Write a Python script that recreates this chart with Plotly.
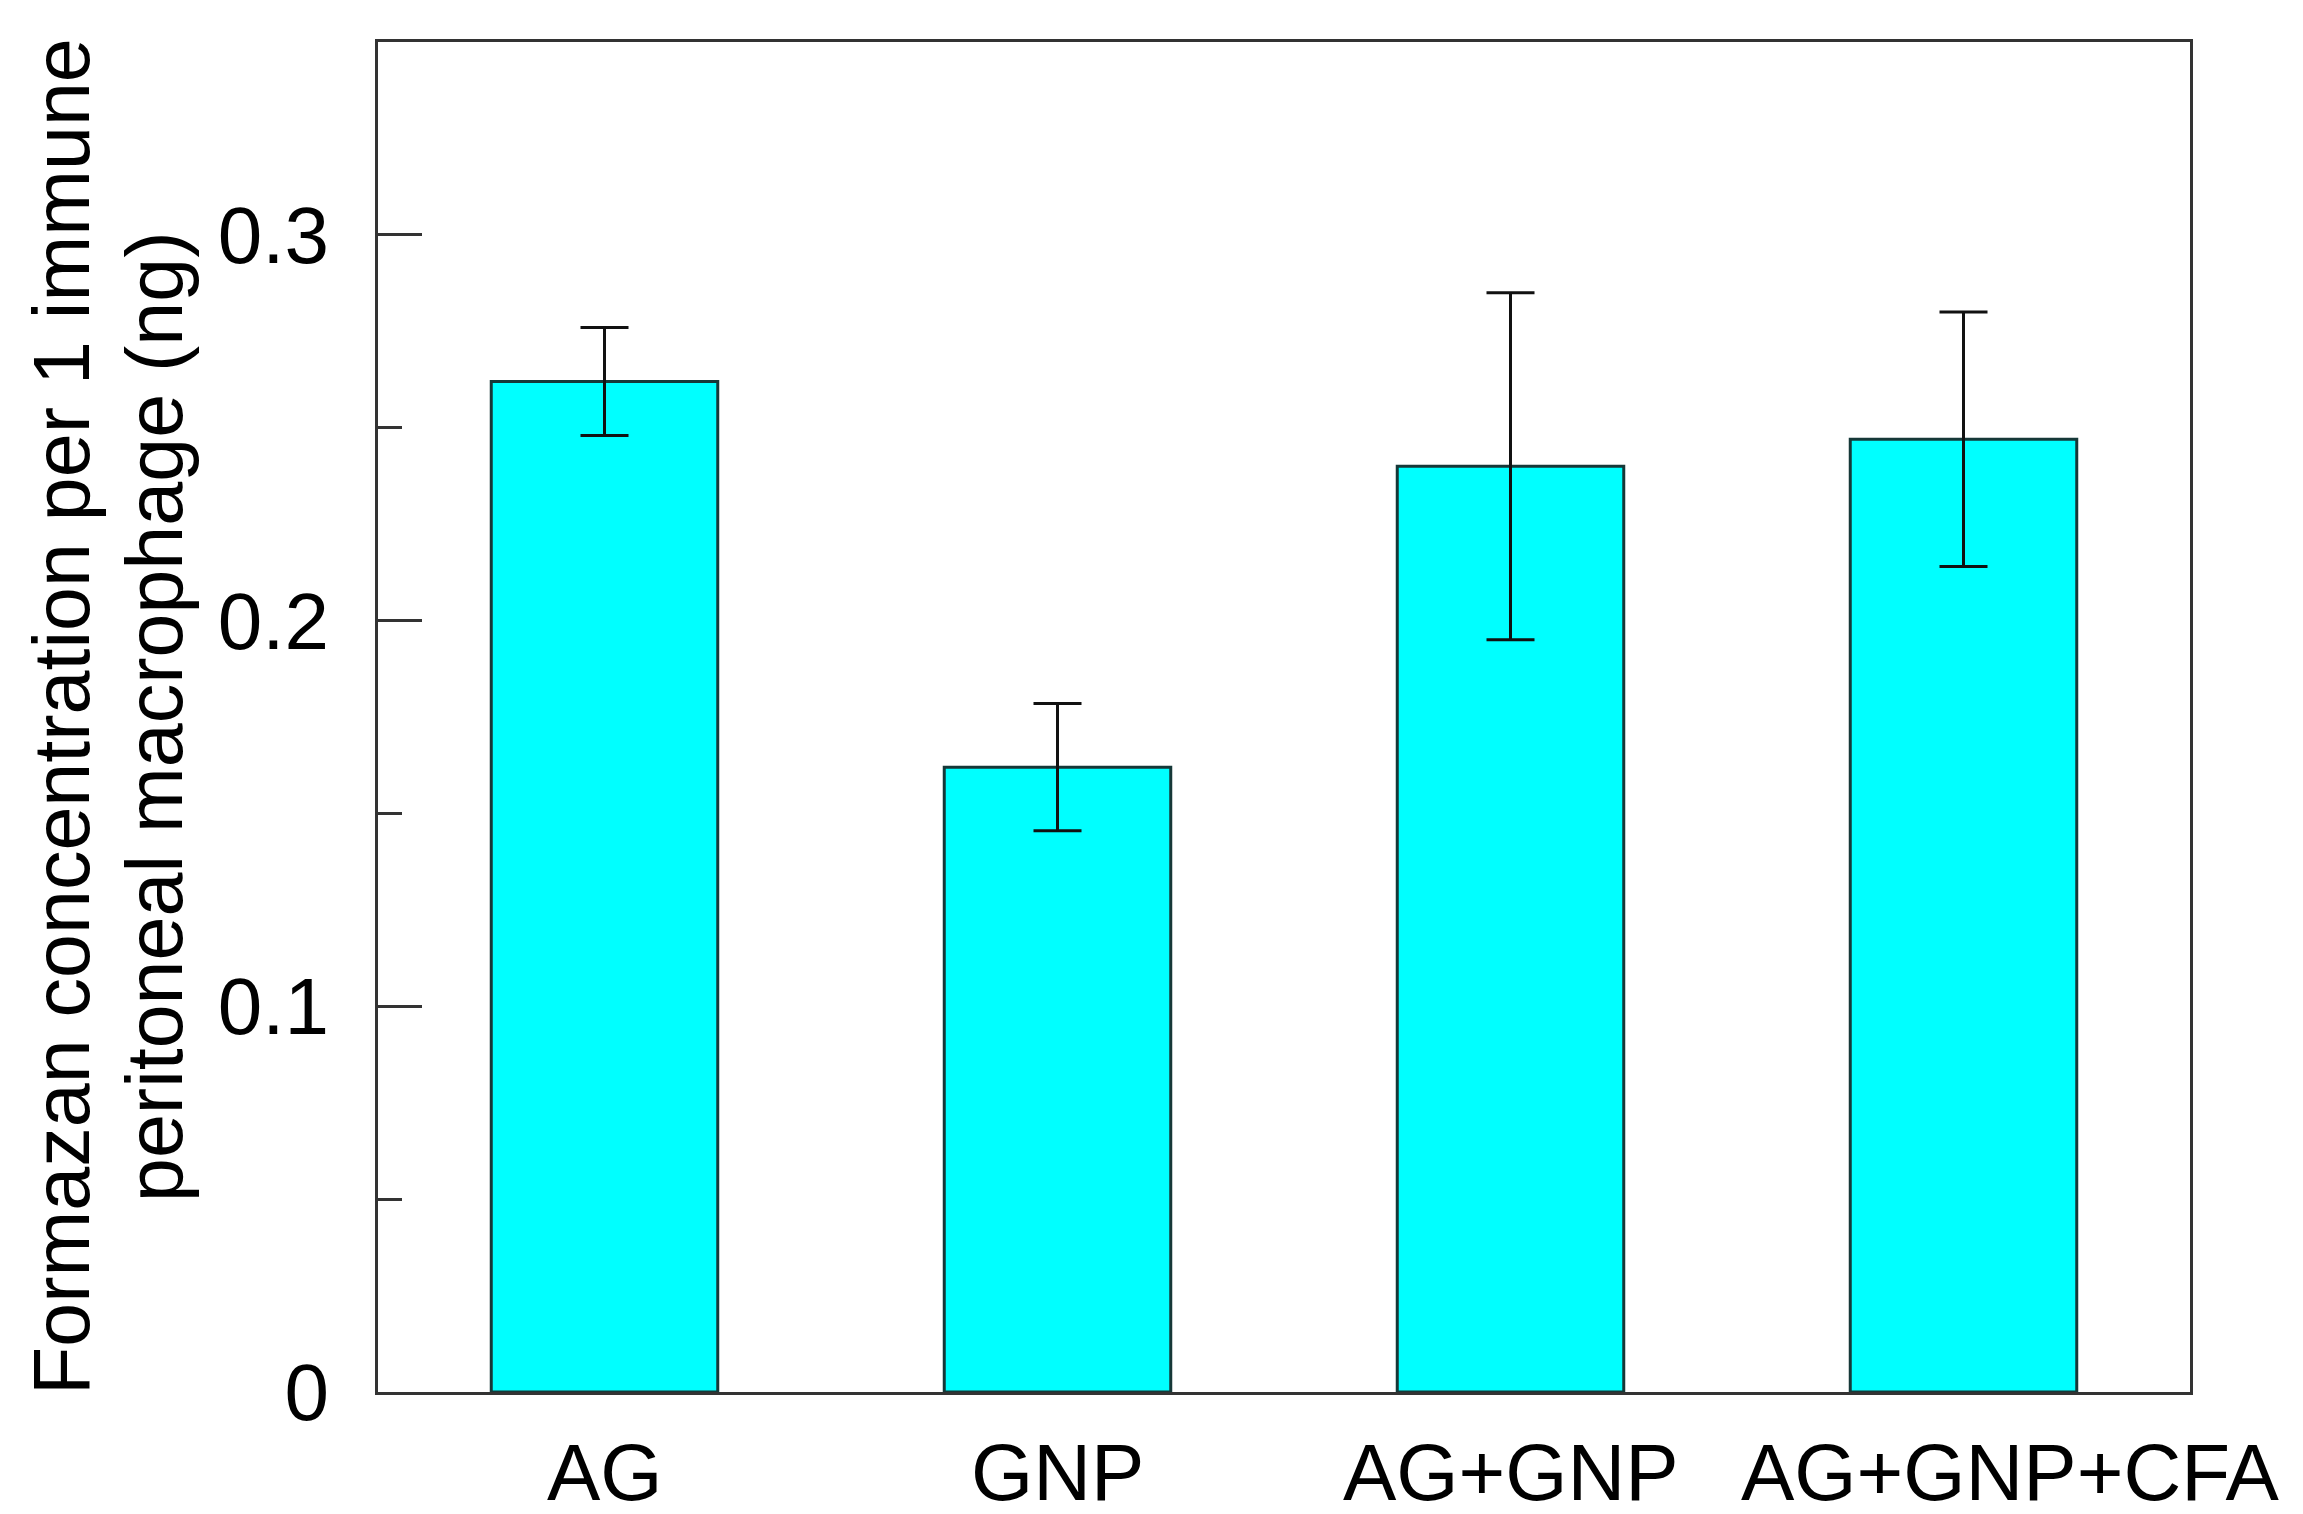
import plotly.graph_objects as go

categories = ["AG", "GNP", "AG+GNP", "AG+GNP+CFA"]
means = [0.262, 0.162, 0.240, 0.247]
errors = [0.014, 0.0165, 0.045, 0.033]
ytick_vals = [0, 0.1, 0.2, 0.3]
ytick_text = ["0", "0.1", "0.2", "0.3"]
title_lines = ["Formazan concentration per 1 immune", "peritoneal macrophage (ng)"]

FONT = "Liberation Sans, Arial, sans-serif"
FS = 80
TFS = 79

W, H = 2303, 1514
ML, MR, MT, MB = 370, 121, 34, 130
PW = W - ML - MR

fig = go.Figure()
fig.add_trace(go.Bar(
    x=categories, y=means, width=0.5,
    marker=dict(color="#00FFFF", line=dict(color="#163838", width=3)),
    error_y=dict(type="data", array=errors, visible=True, color="#111111",
                 thickness=3, width=24),
    showlegend=False,
))

fig.update_layout(
    width=W, height=H,
    margin=dict(l=ML, r=MR, t=MT, b=MB, autoexpand=False),
    plot_bgcolor="white", paper_bgcolor="white",
    font=dict(family=FONT, size=FS, color="black"),
    bargap=0.5,
)
fig.update_xaxes(
    range=[-0.5, 3.5], showline=True, linecolor="#333333", linewidth=3,
    mirror=True, ticks="", showgrid=False, zeroline=False,
    showticklabels=False,
)
fig.update_yaxes(
    range=[0, 0.35], showline=True, linecolor="#333333", linewidth=3,
    mirror=True, ticks="inside", ticklen=44, tickwidth=3, tickcolor="#333333",
    tickvals=ytick_vals, ticktext=ytick_text,
    minor=dict(tickvals=[0.05, 0.15, 0.25], ticks="inside", ticklen=24,
               tickwidth=3, tickcolor="#333333", showgrid=False),
    showgrid=False, zeroline=False,
    tickfont=dict(size=FS, family=FONT, color="black"), ticklabelstandoff=30,
)

# x category labels (last one sits slightly right of its bar, as in the original)
label_shift = {"AG+GNP+CFA": 47}
for cat in categories:
    fig.add_annotation(
        x=cat, y=0, xref="x", yref="paper", text=cat, showarrow=False,
        xanchor="center", yanchor="top", yshift=-34,
        xshift=label_shift.get(cat, 0),
        font=dict(size=FS, family=FONT, color="black"),
    )

# two-line y-axis title
for line, px in zip(title_lines, [53, 146]):
    fig.add_annotation(
        x=(px - ML) / PW, y=0.5, xref="paper", yref="paper", text=line,
        textangle=-90, showarrow=False, xanchor="center", yanchor="middle",
        font=dict(size=TFS, family=FONT, color="black"),
    )

fig.write_html("out.html")
